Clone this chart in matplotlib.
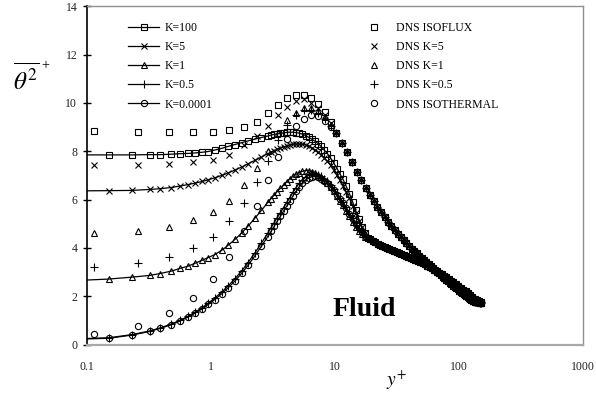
import matplotlib
matplotlib.use("Agg")
import matplotlib.pyplot as plt
from matplotlib.ticker import NullLocator

save_path = "out.png"

plt.rcParams["font.family"] = ["Liberation Serif", "DejaVu Serif"]
plt.rcParams["mathtext.fontset"] = "stix"

# ---- DNS data (wall-normal grid points, near wall + outer part) ----
dns_yp_near = [0.114, 0.259, 0.461, 0.72, 1.04, 1.41, 1.84, 2.33, 2.87, 3.47,
               4.13, 4.84, 5.61, 6.44, 7.32, 8.25, 9.24]
dns_yp_outer = [10.28, 11.38, 12.5, 13.7, 15.0, 16.3, 17.65, 19.1, 20.5, 22.0,
                23.6, 25.2, 26.8, 28.5, 30.3, 32.1, 33.9, 35.8, 37.7, 39.7,
                41.7, 43.8, 45.9, 48.0, 50.2, 52.4, 54.7, 57.0, 59.3, 61.6,
                64.0, 66.5, 68.9, 71.4, 73.9, 76.5, 79.0, 81.6, 84.3, 86.9,
                89.6, 92.3, 95.0, 97.7, 100.5, 103.3, 106.1, 108.9, 111.7, 114.5,
                117.4, 120.3, 123.2, 126.0, 129.0, 132.0, 134.9, 137.8, 140.8, 143.7,
                146.6, 149.6]

dns_isoflux = [8.82, 8.80, 8.78, 8.78, 8.78, 8.86, 8.99, 9.2, 9.57, 9.92,
               10.2, 10.35, 10.35, 10.2, 9.95, 9.62, 9.2]
dns_k5 = [7.44, 7.44, 7.48, 7.55, 7.64, 7.85, 8.25, 8.65, 9.05, 9.5,
          9.85, 10.1, 10.15, 10.0, 9.8, 9.5, 9.15]
dns_k1 = [4.6, 4.7, 4.87, 5.15, 5.48, 5.94, 6.6, 7.3, 8.0, 8.75,
          9.3, 9.6, 9.8, 9.8, 9.65, 9.4, 9.1]
dns_k05 = [3.2, 3.38, 3.61, 3.98, 4.46, 5.1, 5.85, 6.72, 7.6, 8.45,
           9.1, 9.5, 9.7, 9.7, 9.6, 9.35, 9.05]
dns_isothermal = [0.43, 0.77, 1.3, 1.93, 2.72, 3.63, 4.7, 5.75, 6.8, 7.75,
                  8.5, 9.05, 9.35, 9.5, 9.45, 9.25, 9.0]
# all DNS cases collapse away from the wall
dns_outer = [8.75, 8.35, 7.95, 7.55, 7.15, 6.8, 6.5, 6.2, 5.95, 5.7,
             5.47, 5.27, 5.08, 4.9, 4.73, 4.58, 4.44, 4.31, 4.19, 4.08,
             3.97, 3.87, 3.77, 3.68, 3.59, 3.5, 3.41, 3.33, 3.25, 3.17,
             3.09, 3.02, 2.95, 2.88, 2.81, 2.75, 2.68, 2.62, 2.56, 2.5,
             2.44, 2.39, 2.33, 2.28, 2.23, 2.18, 2.13, 2.08, 2.03, 1.99,
             1.95, 1.92, 1.88, 1.85, 1.82, 1.8, 1.78, 1.76, 1.75, 1.74,
             1.73, 1.73]

# ---- model data ----
model_yp_near = [0.05, 0.15, 0.23, 0.32, 0.39, 0.48, 0.56, 0.65, 0.74, 0.85,
                 0.95, 1.07, 1.22, 1.37, 1.56, 1.77, 1.99, 2.25, 2.55, 2.87,
                 3.05, 3.23, 3.42, 3.63, 3.85, 4.08, 4.32, 4.58, 4.86, 5.15,
                 5.46, 5.79, 6.13, 6.5, 6.89, 7.3, 7.74, 8.2, 8.7, 9.22,
                 9.77, 10.4, 11.0, 11.6, 12.3, 13.1, 13.9, 14.7, 15.6, 16.5,
                 17.5]
model_yp_outer = [18.5, 19.3, 20.2, 21.1, 22.1, 23.1, 24.1, 25.2, 26.3, 27.5,
                  28.7, 30.0, 31.4, 32.8, 34.3, 35.8, 37.4, 39.1, 40.9, 42.7,
                  44.6, 46.6, 48.7, 50.9, 53.2, 55.6, 58.1, 60.7, 63.4, 66.3,
                  69.3, 72.4, 75.6, 79.0, 82.6, 86.3, 90.2, 94.3, 98.5, 103,
                  108, 113, 118, 123, 128, 134, 140, 145, 150]

model_k100 = [7.85, 7.85, 7.85, 7.86, 7.86, 7.88, 7.9, 7.91, 7.93, 7.96,
              7.99, 8.05, 8.12, 8.2, 8.28, 8.36, 8.43, 8.5, 8.57, 8.63,
              8.67, 8.7, 8.72, 8.74, 8.76, 8.78, 8.79, 8.79, 8.77, 8.75,
              8.71, 8.65, 8.58, 8.5, 8.42, 8.32, 8.2, 8.05, 7.9, 7.72,
              7.52, 7.28, 7.06, 6.84, 6.56, 6.24, 5.9, 5.55, 5.2, 4.88,
              4.6]
model_k5 = [6.35, 6.37, 6.38, 6.42, 6.45, 6.5, 6.56, 6.62, 6.68, 6.75,
            6.82, 6.9, 7.0, 7.1, 7.22, 7.35, 7.48, 7.62, 7.76, 7.9,
            7.96, 8.02, 8.08, 8.13, 8.18, 8.22, 8.26, 8.29, 8.3, 8.3,
            8.29, 8.26, 8.21, 8.14, 8.06, 7.97, 7.86, 7.72, 7.58, 7.42,
            7.23, 7.0, 6.8, 6.58, 6.33, 6.05, 5.75, 5.45, 5.13, 4.85,
            4.6]
model_k1 = [2.6, 2.71, 2.79, 2.86, 2.94, 3.04, 3.15, 3.24, 3.36, 3.49,
            3.6, 3.72, 3.9, 4.1, 4.35, 4.62, 4.9, 5.22, 5.55, 5.88,
            6.04, 6.19, 6.33, 6.47, 6.6, 6.74, 6.86, 6.96, 7.05, 7.12,
            7.17, 7.2, 7.2, 7.16, 7.1, 7.02, 6.92, 6.8, 6.67, 6.52,
            6.35, 6.16, 5.96, 5.76, 5.54, 5.3, 5.07, 4.87, 4.7, 4.56,
            4.47]
model_k05 = [0.2, 0.28, 0.41, 0.56, 0.69, 0.85, 1.0, 1.16, 1.33, 1.53,
             1.71, 1.92, 2.17, 2.42, 2.72, 3.05, 3.39, 3.78, 4.2, 4.61,
             4.83, 5.04, 5.25, 5.46, 5.67, 5.88, 6.08, 6.3, 6.5, 6.68,
             6.83, 6.95, 7.03, 7.07, 7.07, 7.03, 6.96, 6.87, 6.76, 6.61,
             6.45, 6.27, 6.08, 5.9, 5.68, 5.46, 5.24, 5.04, 4.84, 4.66,
             4.52]
model_k0001 = [0.18, 0.26, 0.39, 0.54, 0.67, 0.82, 0.97, 1.13, 1.29, 1.48,
               1.66, 1.86, 2.1, 2.34, 2.63, 2.95, 3.28, 3.66, 4.07, 4.47,
               4.68, 4.89, 5.1, 5.31, 5.52, 5.73, 5.93, 6.15, 6.35, 6.53,
               6.69, 6.81, 6.9, 6.95, 6.96, 6.93, 6.87, 6.79, 6.68, 6.54,
               6.39, 6.21, 6.03, 5.85, 5.64, 5.42, 5.2, 5.0, 4.81, 4.64,
               4.5]
# all model curves share the outer part
model_outer = [4.41, 4.35, 4.29, 4.24, 4.18, 4.13, 4.09, 4.05, 4.01, 3.97,
               3.93, 3.88, 3.84, 3.80, 3.75, 3.71, 3.67, 3.63, 3.59, 3.55,
               3.51, 3.46, 3.42, 3.37, 3.32, 3.27, 3.22, 3.16, 3.10, 3.04,
               2.98, 2.92, 2.85, 2.78, 2.71, 2.64, 2.57, 2.50, 2.43, 2.35,
               2.27, 2.20, 2.12, 2.05, 1.98, 1.90, 1.84, 1.79, 1.76]

model_labels = ["K=100", "K=5", "K=1", "K=0.5", "K=0.0001"]
dns_labels = ["DNS ISOFLUX", "DNS K=5", "DNS K=1", "DNS K=0.5", "DNS ISOTHERMAL"]
markers = ["s", "x", "^", "+", "o"]
marker_size = {"s": 4.3, "x": 5.0, "^": 4.6, "+": 6.0, "o": 4.5}

x_ticks = [0.1, 1, 10, 100, 1000]
x_tick_labels = ["0.1", "1", "10", "100", "1000"]
y_ticks = [0, 2, 4, 6, 8, 10, 12, 14]


def display_plot():
    fig = plt.figure(figsize=(5.96, 3.96), dpi=100)
    ax = fig.add_axes([0.146, 0.13, 0.832, 0.854])

    model_near = [model_k100, model_k5, model_k1, model_k05, model_k0001]
    dns_near = [dns_isoflux, dns_k5, dns_k1, dns_k05, dns_isothermal]

    model_handles = []
    for label, near, mk in zip(model_labels, model_near, markers):
        ln, = ax.plot(model_yp_near + model_yp_outer, near + model_outer,
                      color="k", lw=0.9, marker=mk, ms=marker_size[mk],
                      mfc="none", mec="k", mew=0.8, label=label)
        model_handles.append(ln)

    dns_handles = []
    for label, near, mk in zip(dns_labels, dns_near, markers):
        ln, = ax.plot(dns_yp_near + dns_yp_outer, near + dns_outer,
                      linestyle="none", marker=mk, ms=marker_size[mk],
                      mfc="none", mec="k", mew=0.8, label=label)
        dns_handles.append(ln)

    ax.set_xscale("log")
    ax.set_xlim(0.1, 1000)
    ax.set_ylim(0, 14)
    ax.set_xticks(x_ticks)
    ax.set_xticklabels(x_tick_labels)
    ax.xaxis.set_minor_locator(NullLocator())
    ax.set_yticks(y_ticks)
    ax.tick_params(axis="x", length=0, pad=12, labelsize=8.5, labelcolor="#222222")
    ax.tick_params(axis="y", direction="inout", length=6, width=1, color="k",
                   pad=4, labelsize=8.5, labelcolor="#222222")

    ax.spines["left"].set_color("k")
    ax.spines["left"].set_linewidth(1.2)
    ax.spines["bottom"].set_color("#a8a8a8")
    ax.spines["bottom"].set_linewidth(1.6)
    for side in ("top", "right"):
        ax.spines[side].set_color("#909090")
        ax.spines[side].set_linewidth(1.0)

    leg1 = ax.legend(handles=model_handles, loc="upper left",
                     bbox_to_anchor=(0.083, 0.953), frameon=False,
                     fontsize=8.5, handlelength=2.6, handletextpad=0.45,
                     labelspacing=0.6, borderpad=0, borderaxespad=0)
    ax.add_artist(leg1)
    ax.legend(handles=dns_handles, loc="upper left",
              bbox_to_anchor=(0.5625, 0.953), frameon=False,
              fontsize=8.5, handlelength=1.4, handletextpad=1.15,
              labelspacing=0.6, borderpad=0, borderaxespad=0)

    ax.text(9.5, 1.2, "Fluid", fontsize=20, fontweight="bold")
    fig.text(13 / 596, 1 - 90 / 396, r"$\overline{\theta^{2}}$",
             fontsize=18, ha="left", va="baseline")
    fig.text(41 / 596, 1 - 69 / 396, "+", fontsize=10, ha="left",
             va="baseline")
    fig.text(397 / 596, 1 - 380 / 396, r"$y^{+}$", fontsize=14,
             ha="center", va="center")

    plt.savefig(save_path, dpi=100)


def main():
    display_plot()


if __name__ == "__main__":
    main()
